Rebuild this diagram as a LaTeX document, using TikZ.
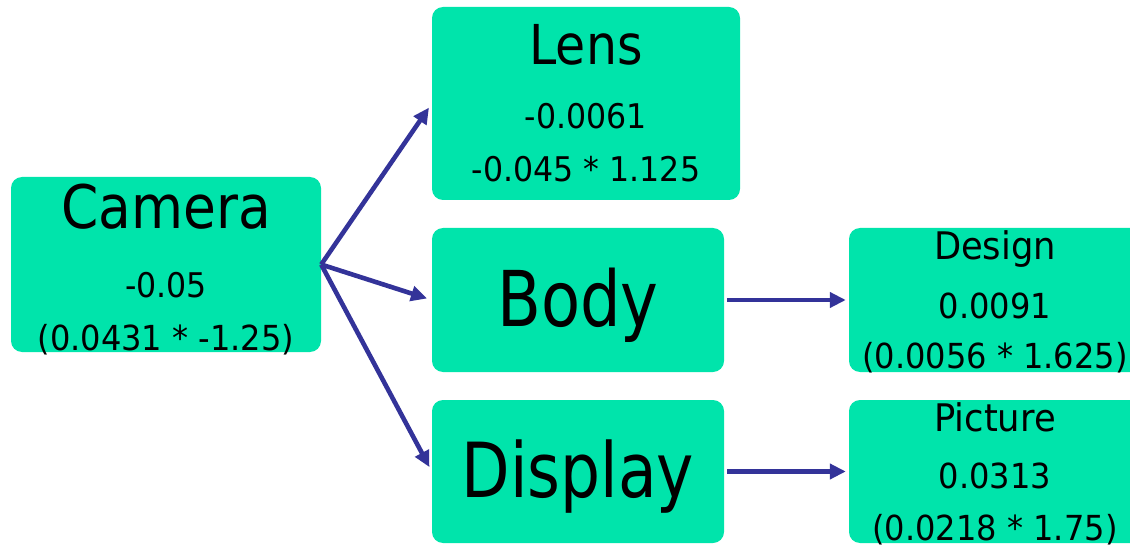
\documentclass[tikz,border=0pt]{standalone}
\usepackage{fontspec}
\setmainfont[FakeStretch=0.89]{DejaVu Sans}
\newfontfamily\widefont[FakeStretch=0.93]{DejaVu Sans}
\newfontfamily\narrowfont[FakeStretch=0.83]{DejaVu Sans}
\usetikzlibrary{arrows.meta}
\definecolor{boxfill}{HTML}{00E4AB}
\definecolor{linkblue}{HTML}{333399}
\tikzset{
  box/.style={fill=boxfill, draw=none, rounded corners=11pt, inner sep=0pt},
  lbl/.style={anchor=base, inner sep=0pt, text=black},
  link/.style={draw=linkblue, line width=4.6pt,
    -{Triangle[length=16pt,width=15pt]}, shorten >=5pt}
}
\begin{document}
\begin{tikzpicture}[x=1pt, y=-1pt]
\useasboundingbox (0,0) rectangle (1130,548);

% component boxes
\node[box, minimum width=310pt, minimum height=175pt] (cam)  at (166,264.5) {};
\node[box, minimum width=308pt, minimum height=193pt] (lens) at (586,103.5) {};
\node[box, minimum width=292pt, minimum height=144pt] (body) at (578,300) {};
\node[box, minimum width=292pt, minimum height=143pt] (disp) at (578,471.5) {};
\node[box, minimum width=300pt, minimum height=144pt] (des)  at (999,300) {};
\node[box, minimum width=300pt, minimum height=143pt] (pic)  at (999,471.5) {};

% labels
\node[lbl, font=\fontsize{60}{60}\selectfont] (camT) at (166,229) {Camera};
\node[lbl, font=\widefont\fontsize{34}{34}\selectfont] (camA) at (166,298) {-0.05};
\node[lbl, font=\widefont\fontsize{34.5}{34}\selectfont] (camB) at (166,350) {(0.0431 * -1.25)};

\node[lbl, font=\fontsize{55}{55}\selectfont] (lensT) at (586,65) {Lens};
\node[lbl, font=\widefont\fontsize{34}{34}\selectfont] (lensA) at (586,129) {-0.0061};
\node[lbl, font=\widefont\fontsize{34}{34}\selectfont] (lensB) at (586,182) {-0.045 * 1.125};

\node[lbl, font=\narrowfont\fontsize{77}{77}\selectfont] (bodyT) at (578,326) {Body};
\node[lbl, font=\narrowfont\fontsize{76}{76}\selectfont] (dispT) at (578,497) {Display};

\node[lbl, font=\widefont\fontsize{38}{38}\selectfont] (desT) at (995,260) {Design};
\node[lbl, font=\widefont\fontsize{34.5}{34}\selectfont] (desA) at (995,318) {0.0091};
\node[lbl, font=\widefont\fontsize{34.5}{34}\selectfont] (desB) at (995,368) {(0.0056 * 1.625)};

\node[lbl, font=\widefont\fontsize{38}{38}\selectfont] (picT) at (995,431) {Picture};
\node[lbl, font=\widefont\fontsize{34.5}{34}\selectfont] (picA) at (995,488) {0.0313};
\node[lbl, font=\widefont\fontsize{34.5}{34}\selectfont] (picB) at (995,540) {(0.0218 * 1.75)};

% connectors
\draw[link] (cam.east) -- (lens.west);
\draw[link] (cam.east) -- (body.west);
\draw[link] (cam.east) -- (disp.west);
\draw[link, shorten <=3pt, shorten >=3pt] (body.east) -- (des.west);
\draw[link, shorten <=3pt, shorten >=3pt] (disp.east) -- (pic.west);
\end{tikzpicture}
\end{document}
